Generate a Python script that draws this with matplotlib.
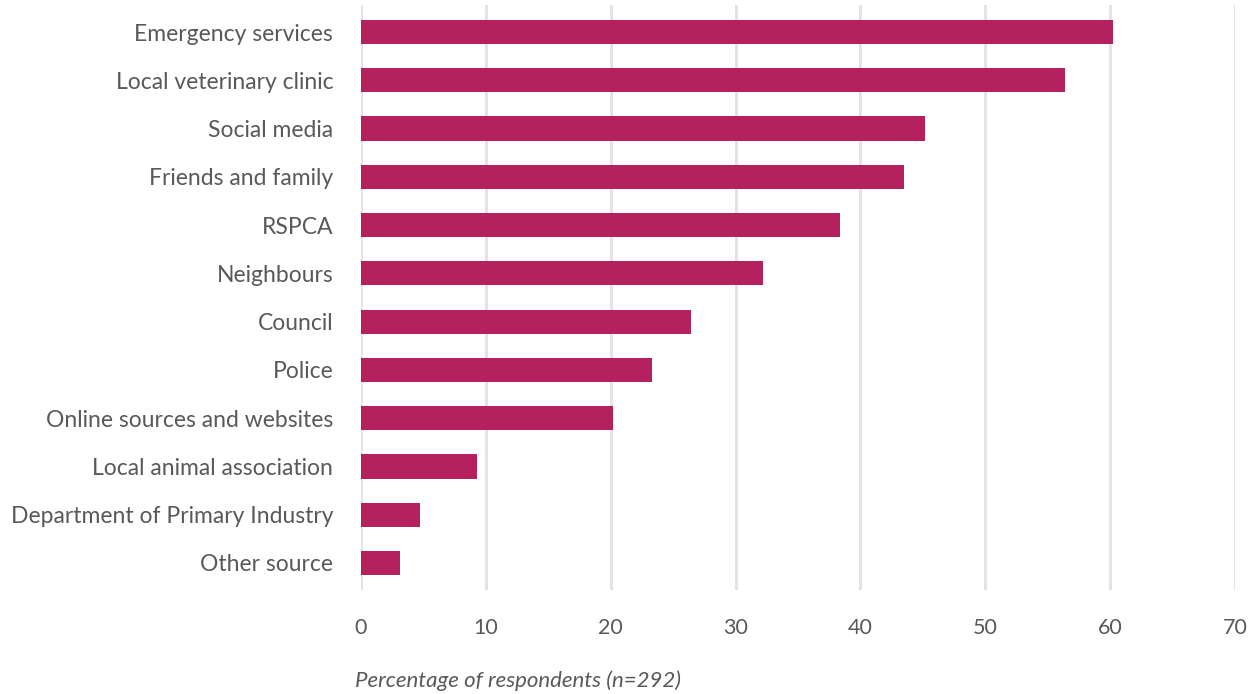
"""Horizontal bar chart: sources of information used by respondents."""

import matplotlib
matplotlib.use("Agg")
import matplotlib.pyplot as plt

CATEGORIES = [
    "Emergency services",
    "Local veterinary clinic",
    "Social media",
    "Friends and family",
    "RSPCA",
    "Neighbours",
    "Council",
    "Police",
    "Online sources and websites",
    "Local animal association",
    "Department of Primary Industry",
    "Other source",
]
VALUES = [60.2, 56.4, 45.2, 43.5, 38.4, 32.2, 26.4, 23.3, 20.2, 9.3, 4.7, 3.1]
X_TICKS = [0, 10, 20, 30, 40, 50, 60, 70]

BAR_COLOUR = "#b5205f"
TEXT_COLOUR = "#595959"
GRID_COLOUR = "#e3e3e3"

plt.rcParams["font.family"] = ["Lato", "DejaVu Sans"]

fig = plt.figure(figsize=(12.55, 6.94), dpi=100)
ax = fig.add_axes([361 / 1255, 104 / 694, (1235 - 361) / 1255, (689 - 104) / 694])

ypos = list(range(len(CATEGORIES)))
ax.barh(ypos, VALUES, height=0.5, color=BAR_COLOUR, zorder=3)

ax.set_xlim(0, 70)
ax.set_ylim(11.56, -0.56)
ax.set_xticks(X_TICKS)
ax.set_xticklabels([str(t) for t in X_TICKS])
ax.set_yticks(ypos)
ax.set_yticklabels(CATEGORIES)

ax.grid(axis="x", color=GRID_COLOUR, linewidth=2.2, zorder=0)
for side in ax.spines.values():
    side.set_visible(False)
ax.tick_params(axis="both", length=0, colors=TEXT_COLOUR)
ax.tick_params(axis="y", pad=20, labelsize=16.5)
ax.tick_params(axis="x", pad=20, labelsize=15.5)

fig.text(355 / 1255, 1 - 681 / 694, "Percentage of respondents (n=292)",
         fontsize=16, style="italic", color=TEXT_COLOUR, va="center", ha="left")

fig.savefig("out.png", dpi=100)
plt.close(fig)
